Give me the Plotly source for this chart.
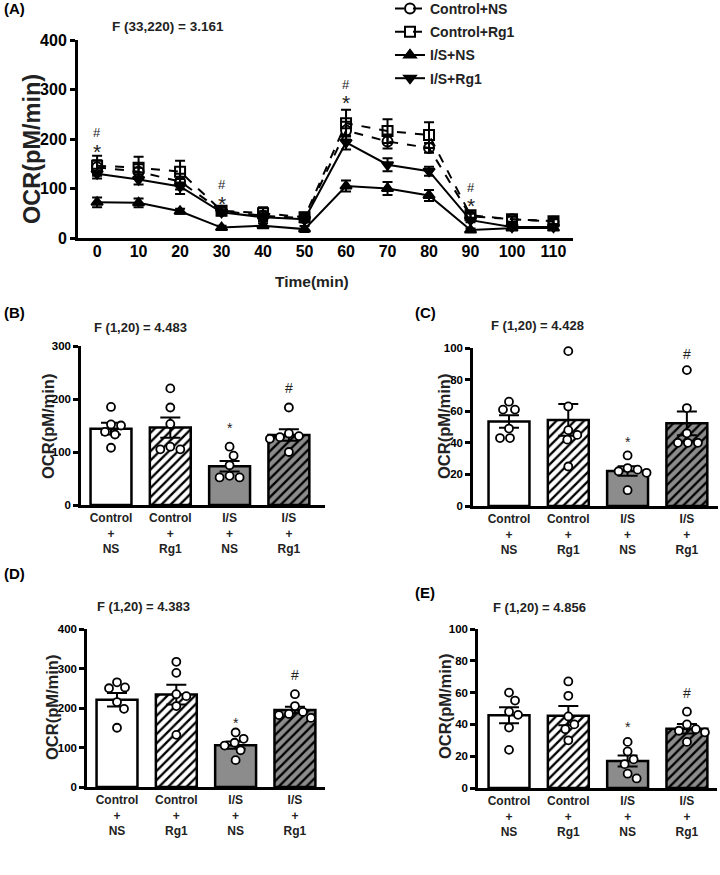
import plotly.graph_objects as go

W, H = 720, 875

# ---------------- Panel A data ----------------
time_min = [0, 10, 20, 30, 40, 50, 60, 70, 80, 90, 100, 110]
ctrl_ns = [143, 134, 114, 55, 45, 40, 217, 195, 182, 44, 38, 33]
ctrl_ns_err = [14, 15, 16, 7, 9, 7, 18, 14, 10, 5, 5, 5]
ctrl_rg1 = [146, 142, 134, 55, 50, 42, 232, 216, 208, 46, 38, 34]
ctrl_rg1_err = [20, 22, 22, 8, 12, 9, 27, 24, 26, 6, 6, 6]
is_ns = [72, 71, 54, 21, 25, 18, 105, 100, 86, 16, 20, 20]
is_ns_err = [10, 9, 5, 4, 5, 6, 11, 13, 11, 3, 3, 3]
is_rg1 = [130, 118, 104, 52, 42, 38, 193, 148, 135, 36, 22, 22]
is_rg1_err = [10, 10, 15, 6, 8, 6, 14, 13, 9, 4, 4, 4]
sig_times = [0, 30, 60, 90]
sig_hash_y = [213, 108, 311, 103]

# ---------------- Bar panels data ----------------
group_labels = ["Control<br>+<br>NS", "Control<br>+<br>Rg1", "I/S<br>+<br>NS", "I/S<br>+<br>Rg1"]

B_means = [144, 146, 73, 132]
B_sem = [11, 19, 10, 11]
B_dots = [[185, 152, 150, 138, 133, 108],
          [220, 184, 153, 110, 105, 105],
          [110, 93, 75, 55, 52, 52],
          [184, 135, 130, 128, 125, 100]]
B_star_y, B_hash_y = 150, 220

C_means = [53.5, 54.5, 22.2, 52.3]
C_sem = [4, 10, 3, 7.5]
C_dots = [[66, 61, 61, 49, 43, 43],
          [98, 63, 48, 45, 42, 25],
          [32, 24, 23, 22, 21, 10],
          [86, 62, 46, 40, 40, 40]]
C_star_y, C_hash_y = 42, 96

D_means = [221, 234, 106, 195]
D_sem = [17, 25, 9, 8]
D_dots = [[265, 252, 250, 215, 198, 150],
          [317, 289, 235, 230, 205, 132],
          [138, 122, 112, 105, 93, 68],
          [235, 205, 190, 185, 182, 175]]
D_star_y, D_hash_y = 168, 283

E_means = [45.8, 45.5, 17, 37.2]
E_sem = [5, 6, 3.5, 3]
E_dots = [[60, 55, 48, 46, 38, 24],
          [67, 58, 45, 40, 37, 30],
          [29, 23, 18, 15, 9, 6],
          [48, 40, 37, 36, 35, 29]]
E_star_y, E_hash_y = 40, 60

FONT = "Liberation Sans, Arial, sans-serif"


def py(p):
    return 1 - p / H


def px(p):
    return p / W


def note(x, y, text, size, bold=True, angle=0, xanchor="center", color="#222"):
    f = dict(family=FONT, size=size, color=color)
    if bold:
        f["weight"] = "bold"
    return dict(x=px(x), y=py(y), xref="paper", yref="paper", text=text, showarrow=False,
                xanchor=xanchor, yanchor="middle", textangle=angle, font=f)


fig = go.Figure()

# ---------------- Panel A ----------------
series = [
    ("Control+NS", ctrl_ns, ctrl_ns_err, "circle-open", "dash", 10),
    ("Control+Rg1", ctrl_rg1, ctrl_rg1_err, "square-open", "dash", 10),
    ("I/S+NS", is_ns, is_ns_err, "triangle-up", "solid", 10),
    ("I/S+Rg1", is_rg1, is_rg1_err, "triangle-down", "solid", 10),
]
for name, vals, errs, sym, dash, msize in series:
    fig.add_trace(go.Scatter(
        x=time_min, y=vals, name=name, legendgroup=name,
        mode="lines+markers", xaxis="x", yaxis="y", cliponaxis=False,
        line=dict(color="black", width=2, dash=dash),
        marker=dict(symbol=sym, size=msize, color="black", line=dict(color="black", width=2)),
        error_y=dict(type="data", array=errs, color="black", thickness=2, width=5),
    ))

annotations = []
for t, hy in zip(sig_times, sig_hash_y):
    # "#" centred on its value, "*" hung directly beneath it
    annotations.append(dict(x=t, y=hy, xref="x", yref="y", text="#", showarrow=False,
                            xanchor="center", yanchor="middle",
                            font=dict(family=FONT, size=13, color="#222")))
    annotations.append(dict(x=t, y=hy, xref="x", yref="y", text="*", showarrow=False,
                            xanchor="center", yanchor="top", yshift=-5,
                            font=dict(family=FONT, size=21, color="#222")))

annotations += [
    note(2, 9, "(A)", 15, xanchor="left", color="black"),
    note(168, 27, "F (33,220) = 3.161", 13.5),
    note(312, 281, "Time(min)", 15.5),
    note(32, 149, "OCR(pM/min)", 23.5, angle=-90),
]

tickfont_A = dict(family=FONT, size=16, color="black", weight="bold")
layout_axes = dict(
    xaxis=dict(domain=[px(78), px(573)], range=[-4.6, 114.7], tickvals=time_min, ticks="",
               showline=True, linewidth=3, linecolor="black", showgrid=False, zeroline=False,
               tickfont=tickfont_A, anchor="y", automargin=False, ticklabelstandoff=-3),
    yaxis=dict(domain=[py(238), py(40)], range=[0, 400], tickvals=[0, 100, 200, 300, 400],
               ticks="outside", ticklen=5, tickwidth=2.5, tickcolor="black",
               showline=True, linewidth=3, linecolor="black", showgrid=False, zeroline=False,
               tickfont=tickfont_A, anchor="x", automargin=False),
)


def swarm(values, ppu, ppc, diam=9.5):
    placed = []
    res = [0.0] * len(values)
    order = sorted(range(len(values)), key=lambda i: -values[i])
    for i in order:
        y = values[i] * ppu
        chosen = 0
        found = False
        for step in range(0, 60):
            for sgn in (1, -1):
                x = sgn * step
                if all((x - a) ** 2 + (y - b) ** 2 >= diam ** 2 for a, b in placed):
                    chosen = x
                    found = True
                    break
            if found:
                break
        placed.append((chosen, y))
        res[i] = chosen / ppc
    return res


panels = [
    ("2", B_means, B_sem, B_dots, B_star_y, B_hash_y, (81, 325), (346, 505), (-0.506, 3.609), 300,
     [0, 100, 200, 300], "(B)", (2, 313), "F (1,20) = 4.483", (140, 328), (48, 427)),
    ("3", C_means, C_sem, C_dots, C_star_y, C_hash_y, (473, 718), (348, 506), (-0.607, 3.525), 100,
     [0, 20, 40, 60, 80, 100], "(C)", (413, 313), "F (1,20) = 4.428", (537, 325), (444, 427)),
    ("4", D_means, D_sem, D_dots, D_star_y, D_hash_y, (87, 325), (629, 787), (-0.506, 3.507), 400,
     [0, 100, 200, 300, 400], "(D)", (2, 573), "F (1,20) = 4.383", (143, 606), (52, 707)),
    ("5", E_means, E_sem, E_dots, E_star_y, E_hash_y, (478, 717), (629, 788), (-0.523, 3.507), 100,
     [0, 20, 40, 60, 80, 100], "(E)", (413, 592), "F (1,20) = 4.856", (539, 607), (445, 707)),
]

GRAY = "#8c8c8c"
cats = [0, 1, 2, 3]
fills = ["white", "white", GRAY, GRAY]
hatch = ["", "/", "", "/"]
tickfont_B = dict(family=FONT, size=11.5, color="black", weight="bold")

for (k, means, sem, dots, star_y, hash_y, xd, yd, xr, ymax, yt, letter, lpos, ftxt, fpos, tpos) in panels:
    xa, ya = "x" + k, "y" + k
    for i in cats:
        mk = dict(color=fills[i], line=dict(color="black", width=2.5))
        if hatch[i]:
            mk["pattern"] = dict(shape=hatch[i], fgcolor="black", bgcolor=fills[i], fgopacity=1,
                                 size=6.5, solidity=0.36)
        fig.add_trace(go.Bar(
            x=[cats[i]], y=[means[i]], width=0.69, xaxis=xa, yaxis=ya, showlegend=False,
            marker=mk,
            error_y=dict(type="data", array=[sem[i]], color="black", thickness=2, width=10),
        ))
    ppu = (yd[1] - yd[0]) / ymax
    ppc = (xd[1] - xd[0]) / (xr[1] - xr[0])
    for i, vals in enumerate(dots):
        offs = swarm(vals, ppu, ppc)
        fig.add_trace(go.Scatter(
            x=[i + o for o in offs], y=vals, mode="markers", xaxis=xa, yaxis=ya,
            showlegend=False, cliponaxis=False,
            marker=dict(symbol="circle", size=8, color="white", line=dict(color="black", width=1.8)),
        ))
    annotations.append(dict(x=2, y=star_y, xref=xa, yref=ya, text="*", showarrow=False, yshift=-2.5,
                            xanchor="center", yanchor="middle",
                            font=dict(family=FONT, size=14, color="#222")))
    annotations.append(dict(x=3, y=hash_y, xref=xa, yref=ya, text="#", showarrow=False,
                            xanchor="center", yanchor="middle",
                            font=dict(family=FONT, size=14, color="#222")))
    annotations.append(note(lpos[0], lpos[1], letter, 15, xanchor="left", color="black"))
    annotations.append(note(fpos[0], fpos[1], ftxt, 13))
    annotations.append(note(tpos[0], tpos[1], "OCR(pM/min)", 16.5, angle=-90))
    layout_axes["xaxis" + k] = dict(
        domain=[px(xd[0]), px(xd[1])], range=list(xr), tickvals=cats, ticktext=group_labels,
        ticks="", showline=True, linewidth=2.5, linecolor="black", showgrid=False, zeroline=False,
        tickfont=dict(family=FONT, size=12, color="#222", weight="bold"), anchor=ya, automargin=False)
    layout_axes["yaxis" + k] = dict(
        domain=[py(yd[1]), py(yd[0])], range=[0, ymax], tickvals=yt, ticks="outside", ticklen=5,
        tickwidth=2.5, tickcolor="black", showline=True, linewidth=2.5, linecolor="black",
        showgrid=False, zeroline=False, tickfont=tickfont_B, anchor=xa, automargin=False)

fig.update_layout(
    width=W, height=H, margin=dict(l=0, r=0, t=0, b=0, autoexpand=False),
    plot_bgcolor="white", paper_bgcolor="white",
    font=dict(family=FONT, color="black"),
    showlegend=True,
    legend=dict(x=px(390), y=1 + 7 / H, xanchor="left", yanchor="top", bgcolor="rgba(0,0,0,0)",
                font=dict(family=FONT, size=14, color="#222", weight="bold"),
                tracegroupgap=2, traceorder="grouped"),
    annotations=annotations,
    barmode="overlay",
    **layout_axes,
)

# the page's default 8px body margin would push the 720x875 figure partly out of the window
fig.write_html("out.html", config={"displayModeBar": False},
               post_script="document.body.style.margin='0px';")
